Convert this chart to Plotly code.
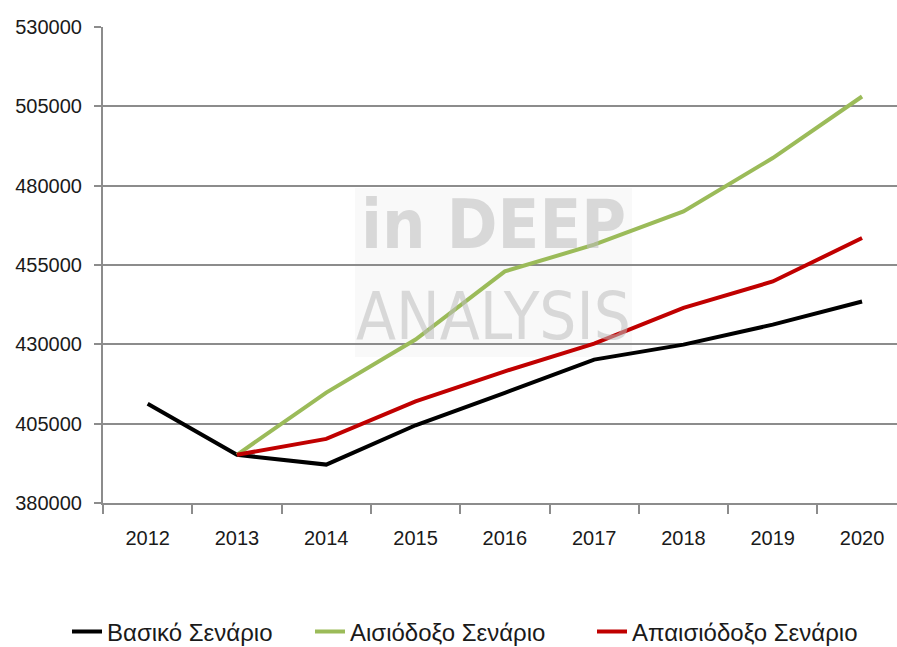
import plotly.graph_objects as go

years = ["2012", "2013", "2014", "2015", "2016", "2017", "2018", "2019", "2020"]
basic = [411300, 395200, 392100, 404500, 414700, 425200, 429900, 436200, 443500]
optimistic = [None, 395200, 414800, 431500, 453000, 461400, 471900, 488700, 508100]
pessimistic = [None, 395200, 400200, 412000, 421500, 430200, 441500, 449800, 463500]
y_ticks = [380000, 405000, 430000, 455000, 480000, 505000, 530000]

names = ["Βασικό Σενάριο", "Αισιόδοξο Σενάριο", "Απαισιόδοξο Σενάριο"]
colors = ["#000000", "#9BBB59", "#C00000"]
legend_ids = ["legend", "legend2", "legend3"]

fig = go.Figure()
for name, vals, col, lg in zip(names, [basic, optimistic, pessimistic], colors, legend_ids):
    fig.add_trace(go.Scatter(x=years, y=vals, name=name, mode="lines", legend=lg,
                             line=dict(color=col, width=4), connectgaps=False))

font_main = "Liberation Sans"
wm_font = "DejaVu Sans Condensed, Roboto, Liberation Sans"

# the page's body margin is removed below, so the figure fills the window
OX, OY = 0, 0
W, H = 897, 647
PL, PT, PR, PB = 103, 27, OX + W, 503   # plot area in screen px
PW, PH = PR - PL, PB - PT

def px(x):
    return (x - PL) / PW

def py(y):
    return (PB - y) / PH

# watermark
fig.add_shape(type="rect", xref="paper", yref="paper",
              x0=px(355), x1=px(632), y0=py(357), y1=py(188),
              fillcolor="rgba(245,245,245,0.6)", line_width=0, layer="below")
fig.add_annotation(text="<b>in DEEP</b>", xref="paper", yref="paper",
                   x=px(493), y=py(224), showarrow=False,
                   font=dict(family=wm_font, size=68, color="rgba(190,190,190,0.55)"))
fig.add_annotation(text="ANALYSIS", xref="paper", yref="paper",
                   x=px(493), y=py(316), showarrow=False,
                   font=dict(family=wm_font, size=65, color="rgba(190,190,190,0.55)"))

text_starts = [107, 350, 632]
legend_cfg = {}
for lg, xs in zip(legend_ids, text_starts):
    legend_cfg[lg] = dict(orientation="h", x=px(xs - 40), xanchor="left",
                          y=py(632), yanchor="middle", font=dict(size=24),
                          bgcolor="rgba(0,0,0,0)")

fig.update_layout(
    width=W, height=H,
    margin=dict(l=PL - OX, r=0, t=PT - OY, b=(OY + H) - PB, autoexpand=False),
    paper_bgcolor="white", plot_bgcolor="white",
    font=dict(family=font_main, size=20, color="#1a1a1a"),
    showlegend=True,
    xaxis=dict(type="category", range=[-0.5, -0.5 + PW / 89.3], showgrid=False,
               showline=True, linecolor="#8c8c8c", linewidth=2,
               ticks="outside", tickson="boundaries", ticklen=9, tickcolor="#8c8c8c", tickwidth=2,
               tickfont=dict(size=20), ticklabelstandoff=16),
    yaxis=dict(range=[380000, 530000], tickvals=y_ticks,
               ticktext=[str(v) for v in y_ticks],
               showgrid=True, gridcolor="#8c8c8c", gridwidth=2,
               showline=True, linecolor="#8c8c8c", linewidth=2,
               ticks="outside", ticklen=7, tickcolor="#8c8c8c", tickwidth=2,
               tickfont=dict(size=20), ticklabelstandoff=8, zeroline=False),
    **legend_cfg,
)

fig.write_html("out.html", config={"displayModeBar": False},
               post_script="document.body.style.margin='0';document.body.style.overflow='hidden';")
